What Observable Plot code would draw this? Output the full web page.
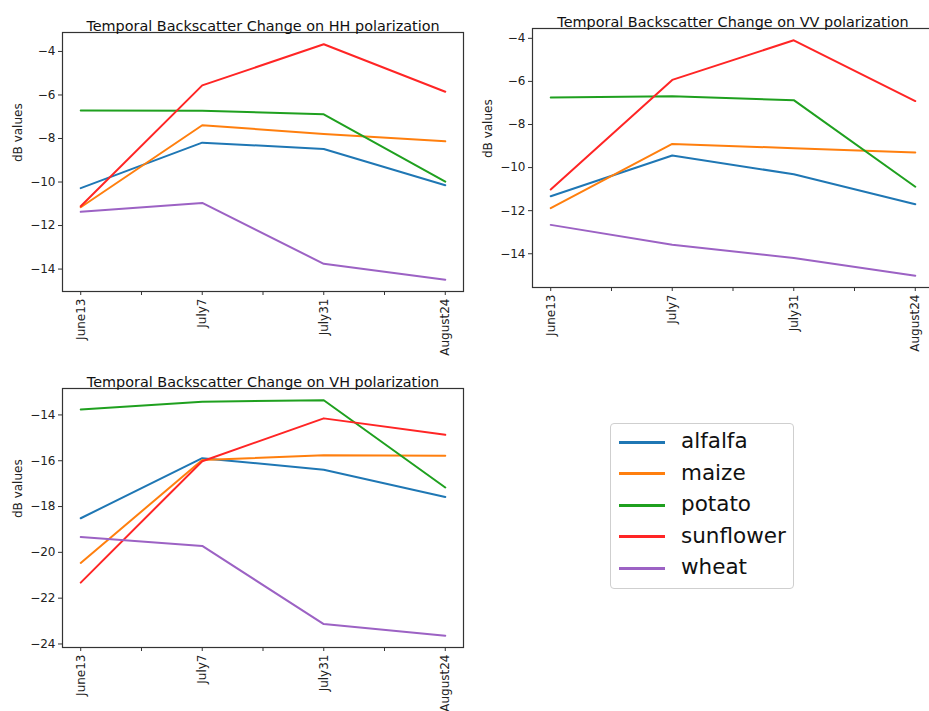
<!DOCTYPE html>
<html>
<head>
<meta charset="utf-8">
<script src="https://cdn.jsdelivr.net/npm/d3@7"></script>
<script src="https://cdn.jsdelivr.net/npm/@observablehq/plot@0.6"></script>
<style>
  html, body { margin: 0; padding: 0; background: #fff; overflow: hidden; }
  body { width: 929px; height: 711px; position: relative; font-family: "DejaVu Sans", sans-serif; }
  .panel { position: absolute; overflow: hidden; }
  .panel svg { max-width: none !important; display: block; }
  #legend { position: absolute; left: 610px; top: 423px; width: 184px; height: 166px;
            border: 1px solid #cfcfcf; border-radius: 4px; background: #fff; box-sizing: border-box; }
  .entry { position: absolute; left: 0; height: 30px; width: 100%; }
  .entry .sw { position: absolute; left: 8px; top: 50%; width: 46px; height: 3px; margin-top: -1.5px; }
  .entry .lb { position: absolute; left: 70px; top: 50%; transform: translateY(-55%); font-size: 21.5px; color: #111; white-space: nowrap; }
</style>
</head>
<body>
<div id="hh" class="panel" style="left:0;top:0;width:470px;height:360px"></div>
<div id="vv" class="panel" style="left:470px;top:0;width:459px;height:360px"></div>
<div id="vh" class="panel" style="left:0;top:360px;width:470px;height:351px"></div>
<div id="legend"></div>
<script>
const dates = ["June13", "July7", "July31", "August24"];
const crops = ["alfalfa", "maize", "potato", "sunflower", "wheat"];
const colors = ["#1f77b4", "#ff7f0e", "#1fa01f", "#ff2525", "#9c62c4"];

// values per crop (rows follow `crops`), columns follow `dates`
const hhValues = [
  [-10.28, -8.19, -8.48, -10.15],
  [-11.16, -7.39, -7.79, -8.13],
  [-6.71, -6.72, -6.89, -9.98],
  [-11.11, -5.56, -3.67, -5.85],
  [-11.37, -10.96, -13.76, -14.49]
];
const vvValues = [
  [-11.33, -9.44, -10.31, -11.70],
  [-11.88, -8.90, -9.10, -9.30],
  [-6.75, -6.69, -6.87, -10.89],
  [-11.02, -5.93, -4.09, -6.91],
  [-12.66, -13.58, -14.20, -15.02]
];
const vhValues = [
  [-18.51, -15.89, -16.39, -17.58],
  [-20.46, -15.97, -15.76, -15.78],
  [-13.76, -13.42, -13.36, -17.17],
  [-21.32, -16.02, -14.15, -14.87],
  [-19.33, -19.72, -23.13, -23.64]
];
const hhTicks = [-14, -12, -10, -8, -6, -4];
const vvTicks = [-14, -12, -10, -8, -6, -4];
const vhTicks = [-24, -22, -20, -18, -16, -14];
const xTicks = [0, 0.5, 1, 1.5, 2, 2.5, 3];

function panel({title, values, yTicks, width, height, marginTop, marginBottom, titleDy}) {
  const rows = [];
  values.forEach((vals, ci) => vals.forEach((v, di) => rows.push({crop: crops[ci], i: di, value: v})));
  const [lo, hi] = d3.extent(rows, d => d.value);
  const pad = (hi - lo) * 0.05;
  const n = dates.length - 1;
  return Plot.plot({
    width, height,
    marginLeft: 62, marginRight: 7, marginTop, marginBottom,
    style: {fontFamily: "DejaVu Sans, sans-serif", fontSize: "12px", color: "#222", background: "transparent", overflow: "visible", maxWidth: "none"},
    x: {domain: [-n * 0.05, n * 1.05], label: null},
    y: {domain: [lo - pad, hi + pad], label: null},
    color: {domain: crops, range: colors},
    marks: [
      Plot.axisX({ticks: xTicks, tickFormat: d => Number.isInteger(d) ? dates[d] : "", tickRotate: -90, tickSize: 4, tickPadding: 3, label: null, stroke: "#333"}),
      Plot.axisY({ticks: yTicks, tickFormat: d => d3.format("d")(d).replace("-", "\u2212"), tickSize: 4, tickPadding: 3, label: null, stroke: "#333"}),
      Plot.line(rows, {x: "i", y: "value", z: "crop", stroke: "crop", strokeWidth: 2}),
      Plot.frame({stroke: "#333", strokeWidth: 1.2}),
      Plot.text(["dB values"], {text: d => d, frameAnchor: "left", dx: -44, rotate: -90, fontSize: 12, fill: "#222"}),
      Plot.text([title], {text: d => d, frameAnchor: "top", dy: titleDy, fontSize: 14.4, fill: "#111"})
    ]
  });
}

document.getElementById("hh").append(panel({
  title: "Temporal Backscatter Change on HH polarization", values: hhValues, yTicks: hhTicks,
  width: 470, height: 360, marginTop: 32, marginBottom: 69, titleDy: -12
}));
document.getElementById("vv").append(panel({
  title: "Temporal Backscatter Change on VV polarization", values: vvValues, yTicks: vvTicks,
  width: 470, height: 360, marginTop: 28, marginBottom: 73, titleDy: -11.5
}));
document.getElementById("vh").append(panel({
  title: "Temporal Backscatter Change on VH polarization", values: vhValues, yTicks: vhTicks,
  width: 470, height: 351, marginTop: 28, marginBottom: 64, titleDy: -12
}));

const legend = document.getElementById("legend");
crops.forEach((c, k) => {
  const e = document.createElement("div");
  e.className = "entry";
  e.style.top = (3 + k * 31.6) + "px";
  e.innerHTML = `<div class="sw" style="background:${colors[k]}"></div><div class="lb">${c}</div>`;
  legend.append(e);
});
</script>
</body>
</html>
